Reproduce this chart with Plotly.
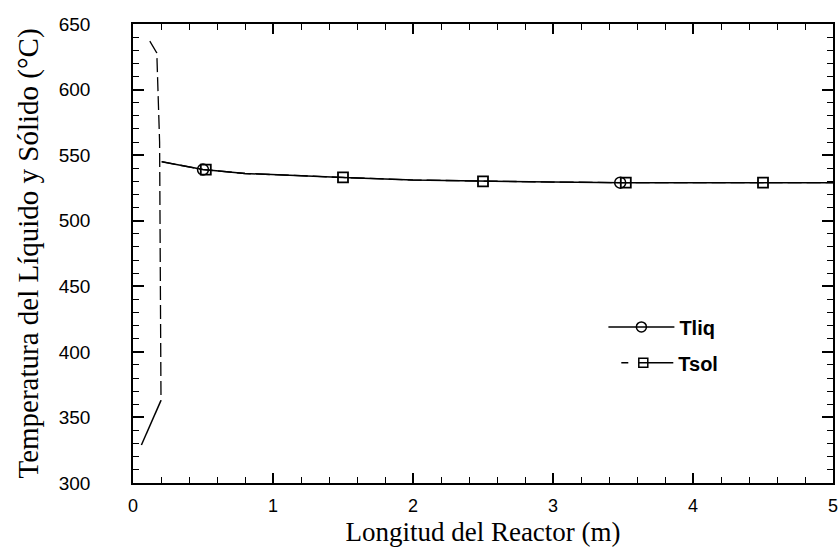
import plotly.graph_objects as go

# Data
x_liq = [0.06, 0.20, None, 0.205, 0.30, 0.50, 0.80, 1.00, 1.50, 2.00, 2.50, 3.00, 3.50, 4.00, 4.50, 5.00]
t_liq = [329, 363, None, 545, 543, 539, 536, 535, 533, 531, 530, 529.5, 529, 529, 529, 529]

x_sol = [0.12, 0.17, 0.19, 0.20, None, 0.205, 0.30, 0.50, 0.80, 1.00, 1.50, 2.00, 2.50, 3.00, 3.50, 4.00, 4.50, 5.00]
t_sol = [637, 628, 560, 363, None, 545, 543, 539, 536, 535, 533, 531, 530, 529.5, 529, 529, 529, 529]

liq_mark_x = [0.50, 3.48]
liq_mark_t = [539, 529]
sol_mark_x = [0.52, 1.50, 2.50, 3.52, 4.50]
sol_mark_t = [539, 533, 530, 529, 529]

x_ticks = [0, 1, 2, 3, 4, 5]
y_ticks = [300, 350, 400, 450, 500, 550, 600, 650]

series_names = ["Tliq", "Tsol"]

SANS = "Liberation Sans, Arial, sans-serif"
SERIF = "Liberation Serif, Times New Roman, serif"
SOL_DASH = "14px,5px"
CLEAR = "rgba(0,0,0,0)"

fig = go.Figure()

# curves
fig.add_trace(go.Scatter(x=x_sol, y=t_sol, mode="lines", showlegend=False,
                         line=dict(color="black", width=1.3, dash=SOL_DASH), hoverinfo="skip"))
fig.add_trace(go.Scatter(x=x_liq, y=t_liq, mode="lines", showlegend=False,
                         line=dict(color="black", width=1.5), hoverinfo="skip"))
# markers
fig.add_trace(go.Scatter(x=liq_mark_x, y=liq_mark_t, mode="markers", showlegend=False,
                         marker=dict(symbol="circle-open", size=11, color="black",
                                     line=dict(color="black", width=1.5))))
fig.add_trace(go.Scatter(x=sol_mark_x, y=sol_mark_t, mode="markers", showlegend=False,
                         marker=dict(symbol="square-open", size=10, color="black",
                                     line=dict(color="black", width=1.8))))

# legend entries
fig.add_trace(go.Scatter(x=[None], y=[None], mode="lines+markers", name=series_names[0],
                         legend="legend",
                         line=dict(color="black", width=1.5),
                         marker=dict(symbol="circle-open", size=10, color="black",
                                     line=dict(color="black", width=1.5))))
fig.add_trace(go.Scatter(x=[None], y=[None], mode="lines+markers", name=series_names[1],
                         legend="legend2",
                         line=dict(color="black", width=1.5, dash="0px,8px,7px,10px,40px,100px"),
                         marker=dict(symbol="square-open", size=9, color="black",
                                     line=dict(color="black", width=1.5))))

# invisible trace carrying the overlay axes that draw the inward ticks
fig.add_trace(go.Scatter(x=[None], y=[None], xaxis="x2", yaxis="y2", mode="lines",
                         showlegend=False, hoverinfo="skip"))

legend_common = dict(xanchor="left", yanchor="middle", bgcolor=CLEAR,
                     borderwidth=0,
                     font=dict(family=SANS, size=20, color="black", weight="bold"))

fig.update_layout(
    width=838, height=547,
    margin=dict(l=133, r=0, t=24, b=64),
    paper_bgcolor="white", plot_bgcolor="white",
    legend=dict(x=0.672, y=0.34, itemwidth=66, **legend_common),
    legend2=dict(x=0.679, y=0.262, itemwidth=60, **legend_common),
    # main axes: frame, labels, titles (transparent outside ticks set the label gap)
    xaxis=dict(
        range=[0, 5], tickvals=x_ticks, ticktext=[str(v) for v in x_ticks],
        ticks="outside", ticklen=6, tickcolor=CLEAR,
        showline=True, linecolor="black", linewidth=1.5, mirror=True,
        showgrid=False, zeroline=False,
        tickfont=dict(family=SANS, size=18, color="black"),
        ticklabeloverflow="allow",
        title=dict(text="Longitud del Reactor (m)", standoff=10,
                   font=dict(family=SERIF, size=27, color="black")),
    ),
    yaxis=dict(
        range=[300, 650], tickvals=y_ticks, ticktext=[str(v) for v in y_ticks],
        ticks="outside", ticklen=37, tickcolor=CLEAR,
        showline=True, linecolor="black", linewidth=1.5, mirror=True,
        showgrid=False, zeroline=False,
        tickfont=dict(family=SANS, size=19, color="black"),
        ticklabeloverflow="allow",
        title=dict(text="Temperatura del Líquido y Sólido (°C)", standoff=12,
                   font=dict(family=SERIF, size=29, color="black")),
    ),
    # overlay axes: inward major and minor ticks on all four sides
    xaxis2=dict(
        overlaying="x", anchor="y2", side="bottom", range=[0, 5], tickvals=x_ticks,
        showticklabels=False, ticks="inside", ticklen=10, tickwidth=1.6, tickcolor="black",
        showline=False, mirror="allticks", showgrid=False, zeroline=False,
        minor=dict(dtick=0.2, ticks="inside", ticklen=6, tickcolor="black", tickwidth=1.3),
    ),
    yaxis2=dict(
        overlaying="y", anchor="x2", side="left", range=[300, 650], tickvals=y_ticks,
        showticklabels=False, ticks="inside", ticklen=11, tickwidth=1.6, tickcolor="black",
        showline=False, mirror="allticks", showgrid=False, zeroline=False,
        minor=dict(dtick=10, ticks="inside", ticklen=6, tickcolor="black", tickwidth=1.3),
    ),
)

fig.write_html("out.html")
